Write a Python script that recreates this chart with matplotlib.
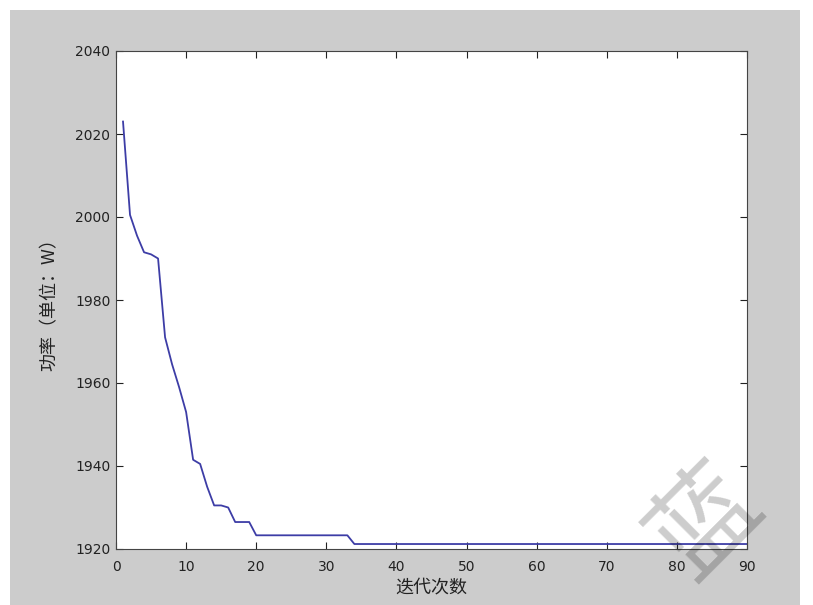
import matplotlib
matplotlib.use("Agg")
import matplotlib.pyplot as plt
from matplotlib.patches import Rectangle

plt.rcParams['font.family'] = ['Noto Sans CJK SC', 'DejaVu Sans']

# data
iters = list(range(1, 91))
power = ([2023, 2000.5, 1995.5, 1991.5, 1991, 1990, 1971, 1964.5, 1959, 1953,
          1941.5, 1940.5, 1935, 1930.5, 1930.5, 1930, 1926.5, 1926.5, 1926.5]
         + [1923.3] * 14
         + [1921.2] * 57)

x_ticks = [0, 10, 20, 30, 40, 50, 60, 70, 80, 90]
y_ticks = [1920, 1940, 1960, 1980, 2000, 2020, 2040]

W, H = 813, 605
fig = plt.figure(figsize=(W / 100, H / 100), dpi=100, facecolor='white')

# grey matlab window background
bg = Rectangle((10 / W, 0), 790 / W, 595 / H, transform=fig.transFigure,
               facecolor='#cccccc', edgecolor='none', zorder=-5)
fig.add_artist(bg)

ax = fig.add_axes([116 / W, (H - 549) / H, 631 / W, 498 / H])
ax.plot(iters, power, color='#3d3da6', linewidth=1.3)

ax.set_xlim(0, 90)
ax.set_ylim(1920, 2040)
ax.set_xticks(x_ticks)
ax.set_yticks(y_ticks)
ax.tick_params(direction='in', top=True, right=True, length=5, width=0.8,
               labelsize=10, colors='#222222')
ax.tick_params(axis='x', pad=8)
ax.tick_params(axis='y', pad=4)
for lab in ax.get_xticklabels() + ax.get_yticklabels():
    lab.set_family('DejaVu Sans')
for s in ax.spines.values():
    s.set_color('#444444')
    s.set_linewidth(0.8)

ax.set_xlabel('迭代次数', fontsize=13, color='#222222', labelpad=3)
ax.set_ylabel('功率（单位：W）', fontsize=13, color='#222222', labelpad=12)

# faint watermark in the lower right corner
fig.text(706 / W, 1 - 522 / H, '蓝', fontsize=76,
         rotation=45, color='black', alpha=0.2,
         ha='center', va='center', zorder=10)

fig.savefig('out.png', dpi=100, facecolor=fig.get_facecolor())
